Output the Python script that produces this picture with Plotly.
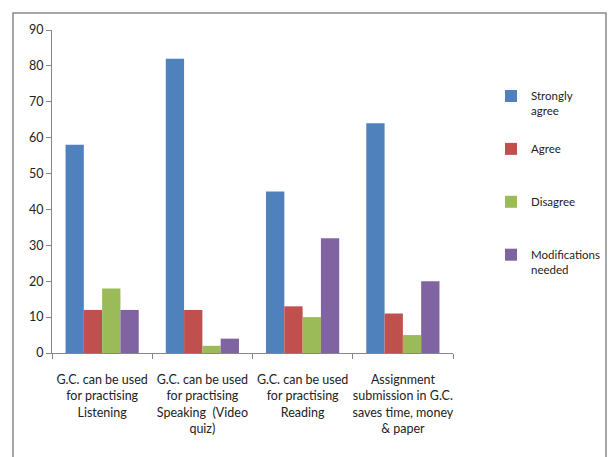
import plotly.graph_objects as go

categories = [
    "G.C. can be used<br>for practising<br>Listening",
    "G.C. can be used<br>for practising<br>Speaking  (Video<br>quiz)",
    "G.C. can be used<br>for practising<br>Reading",
    "Assignment<br>submission in G.C.<br>saves time, money<br>& paper",
]
series_names = ["Strongly<br>agree", "Agree<br>\u00a0", "Disagree<br>\u00a0", "Modifications<br>needed"]
strongly_agree = [58, 82, 45, 64]
agree = [12, 12, 13, 11]
disagree = [18, 2, 10, 5]
modifications = [12, 4, 32, 20]
colors = ["#4F81BD", "#C0504D", "#9BBB59", "#8064A2"]
yticks = [0, 10, 20, 30, 40, 50, 60, 70, 80, 90]

values = [strongly_agree, agree, disagree, modifications]

fig = go.Figure()
for i, (name, vals) in enumerate(zip(series_names, values)):
    fig.add_trace(go.Bar(
        x=categories, y=vals, name=name, marker_color=colors[i],
        marker_line_width=0, legendgroup=f"g{i}",
    ))

W, H = 610, 457
L, R, T, B = 52, 157, 30, 104
pw, ph = W - L - R, H - T - B

def px_x(p):
    return (p - L) / pw

def px_y(p):
    return (H - B - p) / ph

fig.update_layout(
    width=W, height=H,
    margin=dict(l=L, r=R, t=T, b=B, autoexpand=False),
    paper_bgcolor="white", plot_bgcolor="white",
    barmode="group", bargap=0.27, bargroupgap=0,
    font=dict(family="Lato, Open Sans, sans-serif", size=12, color="#222222"),
    showlegend=True,
    legend=dict(
        x=px_x(491), y=px_y(82), xanchor="left", yanchor="top",
        traceorder="grouped", tracegroupgap=20, valign="top",
        font=dict(size=11.5, color="#222222"),
        itemwidth=30, bgcolor="rgba(0,0,0,0)",
    ),
    xaxis=dict(
        showline=True, linecolor="#868686", linewidth=1,
        ticks="outside", ticklen=5, tickcolor="#868686",
        tickson="boundaries", showgrid=False, tickangle=0, automargin=False,
        ticklabelstandoff=15,
        tickfont=dict(size=12.5, color="#222222"),
    ),
    yaxis=dict(
        range=[0, 90], tickvals=yticks, showline=True, linecolor="#868686",
        linewidth=1, ticks="outside", ticklen=5, tickcolor="#868686",
        showgrid=False, zeroline=False, automargin=False,
        tickfont=dict(size=12.5, color="#222222"),
    ),
    shapes=[dict(
        type="rect", xref="paper", yref="paper",
        x0=px_x(13), x1=px_x(606), y0=px_y(465), y1=px_y(13),
        line=dict(color="#8a8a8a", width=1.5), fillcolor="rgba(0,0,0,0)",
        layer="above",
    )],
)

fig.write_html(
    "out.html",
    config={"displayModeBar": False},
    post_script="document.body.style.margin='0px';document.body.style.overflow='hidden';",
)
